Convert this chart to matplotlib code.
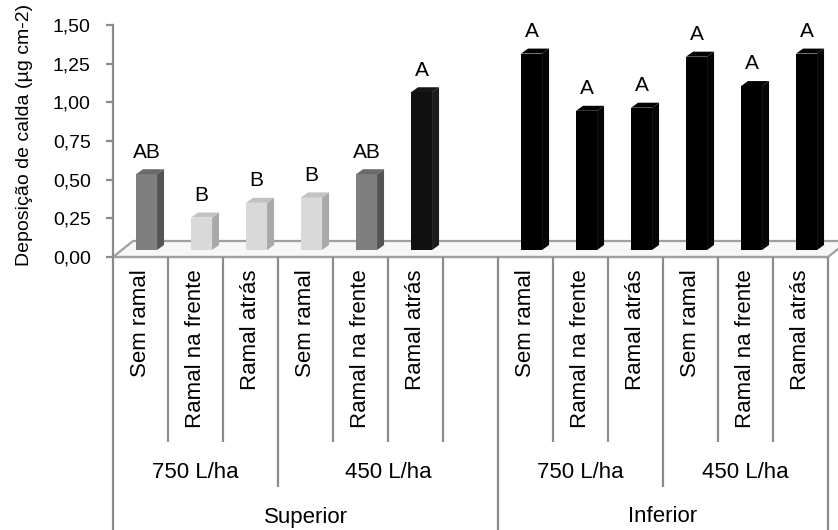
import numpy as np
import matplotlib
matplotlib.use("Agg")
import matplotlib.pyplot as plt
from matplotlib.patches import Polygon

plt.rcParams["font.family"] = ["Liberation Sans", "DejaVu Sans"]

# dados
tratamentos = ["Sem ramal", "Ramal na frente", "Ramal atrás"]
volumes = ["750 L/ha", "450 L/ha"]
posicoes = ["Superior", "Inferior"]
val_superior = [0.49, 0.21, 0.305, 0.34, 0.49, 1.02]
val_inferior = [1.27, 0.90, 0.92, 1.25, 1.06, 1.27]
letras_superior = ["AB", "B", "B", "B", "AB", "A"]
letras_inferior = ["A", "A", "A", "A", "A", "A"]
yticks = [0.0, 0.25, 0.5, 0.75, 1.0, 1.25, 1.5]

# estilo das barras (frente, lado, topo)
cinza_esc = ("#7f7f7f", "#545454", "#6a6a6a")
cinza_cla = ("#d9d9d9", "#a9a9a9", "#c2c2c2")
preto6 = ("#101010", "#1c1c1c", "#161616")
preto = ("#000000", "#050505", "#030303")
cores_sup = [cinza_esc, cinza_cla, cinza_cla, cinza_cla, cinza_esc, preto6]
cores_inf = [preto] * 6

W, H = 838, 530
fig = plt.figure(figsize=(W / 100, H / 100), dpi=100)
ax = fig.add_axes([113 / W, (H - 257) / H, 715 / W, 232 / H])
ax.set_xlim(-0.5, 12.5)
ax.set_ylim(0, 1.5)

px_x = 715 / 13.0
px_y = 232 / 1.5

def fy(y):
    # pixel y (de cima) -> fração do eixo
    return (257 - y) / 232.0

# piso 3D
fdx, fdy = 20 / px_x, 16 / px_y
piso = Polygon([(-0.5, 0), (12.5, 0), (12.5 + fdx, fdy), (-0.5 + fdx, fdy)],
               closed=True, facecolor="#f7f7f7", edgecolor="#a0a0a0",
               lw=1.6, clip_on=False, zorder=1)
ax.add_patch(piso)

# barras
larg = 21 / px_x
desl = 0.11
y0 = 7 / px_y
sdx, sdy = 7 / px_x, 5 / px_y

xs = list(np.arange(6)) + list(np.arange(7, 13))
vals = val_superior + val_inferior
letras = letras_superior + letras_inferior
cores = cores_sup + cores_inf

for x, v, l, c in zip(xs, vals, letras, cores):
    xl = x + desl - larg / 2
    xr = x + desl + larg / 2
    ax.bar(x + desl, v, width=larg, bottom=y0, color=c[0], lw=0, zorder=3)
    lado = Polygon([(xr, y0), (xr + sdx, y0 + sdy), (xr + sdx, y0 + v + sdy), (xr, y0 + v)],
                   closed=True, facecolor=c[1], lw=0, zorder=3, clip_on=False)
    topo = Polygon([(xl, y0 + v), (xr, y0 + v), (xr + sdx, y0 + v + sdy), (xl + sdx, y0 + v + sdy)],
                   closed=True, facecolor=c[2], lw=0, zorder=3, clip_on=False)
    ax.add_patch(lado)
    ax.add_patch(topo)
    ax.annotate(l, xy=(x + desl, y0 + v), xytext=(0, 12), textcoords="offset points",
                ha="center", va="baseline", fontsize=15, annotation_clip=False)

# eixo y
for s in ["top", "right", "bottom"]:
    ax.spines[s].set_visible(False)
ax.spines["left"].set_color("#8c8c8c")
ax.spines["left"].set_linewidth(1.6)
ax.set_yticks(yticks)
ax.set_yticklabels([f"{t:.2f}".replace(".", ",") for t in yticks], fontsize=14)
ax.tick_params(axis="y", direction="out", length=5, width=1.6, color="#8c8c8c", pad=11)
ax.set_xticks([])
fig.text(25 / W, 1 - 135 / H, "Deposição de calda (µg cm-2)", rotation=90,
         ha="center", va="center", fontsize=14)

# eixo de categorias em vários níveis
trans = ax.get_xaxis_transform()
ax.plot([-0.5, 12.5], [0, 0], transform=trans, color="#a0a0a0", lw=1.6, clip_on=False, zorder=2)
limites = np.arange(-0.5, 13, 1.0)
for b in limites:
    if b in (-0.5, 6.5, 12.5):
        yb = 530
    elif b in (2.5, 9.5):
        yb = 487
    else:
        yb = 442
    ax.plot([b, b], [0, fy(yb)], transform=trans, color="#8c8c8c", lw=1.6,
            clip_on=False, solid_capstyle="butt")

for x in xs:
    ax.text(x, fy(269), tratamentos[xs.index(x) % 3], rotation=90, transform=trans,
            ha="center", va="top", fontsize=16)

grupos = [(-0.5, 2.5), (2.5, 6.5), (6.5, 9.5), (9.5, 12.5)]
for i, (a, b) in enumerate(grupos):
    ax.text((a + b) / 2, fy(473), volumes[i % 2], transform=trans,
            ha="center", va="center", fontsize=16)

for i, (a, b) in enumerate([(-0.5, 6.5), (6.5, 12.5)]):
    ax.text((a + b) / 2, fy(517), posicoes[i], transform=trans,
            ha="center", va="center", fontsize=16)

fig.savefig("out.png", dpi=100)
